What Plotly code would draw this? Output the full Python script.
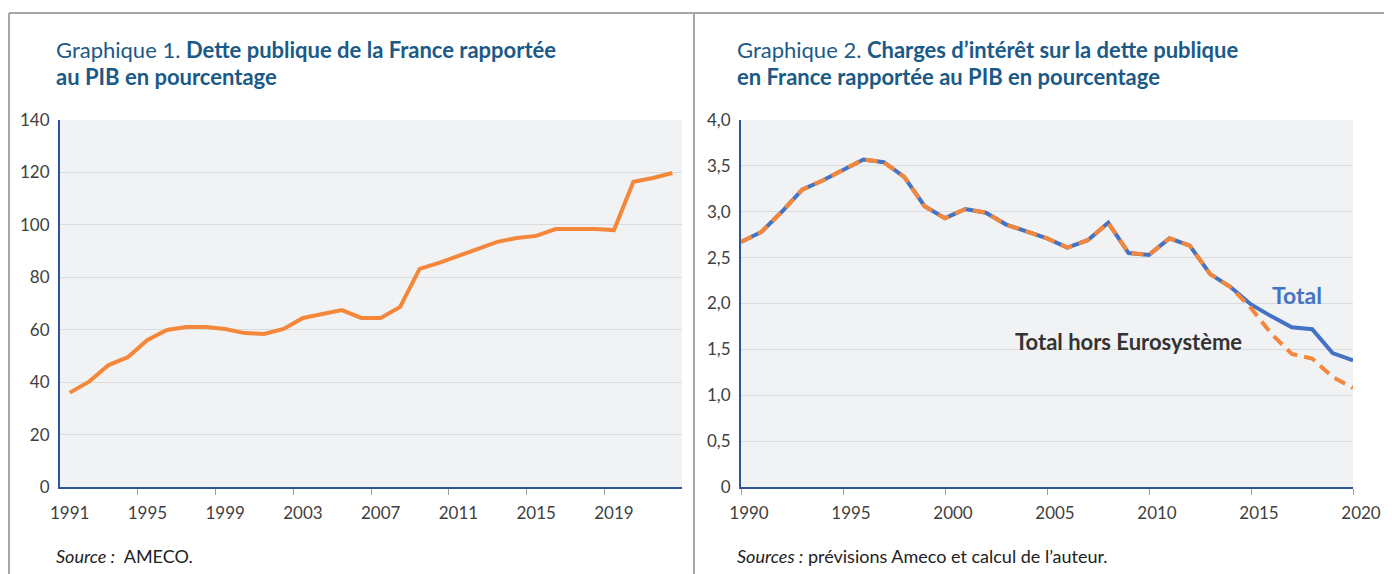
import plotly.graph_objects as go

# Graphique 1 : dette publique / PIB (%)
annees_dette = list(range(1991, 2023))
dette = [36.0, 40.2, 46.5, 49.6, 56.1, 59.9, 61.0, 61.0, 60.3, 58.7, 58.4, 60.3,
         64.5, 66.0, 67.5, 64.5, 64.5, 68.7, 83.2, 85.5, 88.1, 90.8, 93.5, 95.0,
         95.8, 98.4, 98.4, 98.4, 98.0, 116.4, 117.9, 119.8]
labels_dette = [1991, 1995, 1999, 2003, 2007, 2011, 2015, 2019]

# Graphique 2 : charges d'intérêt / PIB (%)
annees_int = list(range(1990, 2021))
total = [2.67, 2.78, 3.00, 3.24, 3.34, 3.46, 3.57, 3.54, 3.38, 3.06, 2.93, 3.03,
         2.99, 2.86, 2.79, 2.71, 2.61, 2.69, 2.88, 2.55, 2.53, 2.71, 2.63, 2.32,
         2.18, 1.99, 1.86, 1.74, 1.72, 1.46, 1.38]
hors_euro = [2.67, 2.78, 3.00, 3.24, 3.34, 3.46, 3.57, 3.54, 3.38, 3.06, 2.93, 3.03,
             2.99, 2.86, 2.79, 2.71, 2.61, 2.69, 2.88, 2.55, 2.53, 2.71, 2.63, 2.32,
             2.18, 1.95, 1.67, 1.45, 1.40, 1.20, 1.08]
labels_int = [1990, 1995, 2000, 2005, 2010, 2015, 2020]
yticks_int = [0, 0.5, 1.0, 1.5, 2.0, 2.5, 3.0, 3.5, 4.0]
yticks_int_txt = ["0", "0,5", "1,0", "1,5", "2,0", "2,5", "3,0", "3,5", "4,0"]

W, H = 1392, 574
OX, OY = 8, 8  # marge par défaut du <body> dans la page
ORANGE = "#f5873a"
BLEU = "#4472c4"
TITRE = "#1b5a86"
AXE = "#2f5597"
FOND = "#f1f2f4"
GRILLE = "#dadbdd"
TEXTE = "#404040"
FONT = "Lato"

def px_x(v):
    return (v - OX) / W

def px_y(v):
    return 1 - (v - OY) / H

fig = go.Figure()

fig.add_trace(go.Scatter(x=annees_dette, y=dette, mode="lines",
                         line=dict(color=ORANGE, width=4), xaxis="x", yaxis="y",
                         showlegend=False))
fig.add_trace(go.Scatter(x=annees_int, y=total, mode="lines",
                         line=dict(color=BLEU, width=4), xaxis="x2", yaxis="y2",
                         showlegend=False))
fig.add_trace(go.Scatter(x=annees_int, y=hors_euro, mode="lines",
                         line=dict(color=ORANGE, width=4, dash="12px,7px"),
                         xaxis="x2", yaxis="y2", showlegend=False))

ydom = [px_y(487), px_y(120)]
tickfont = dict(family=FONT, size=17, color=TEXTE)

fig.update_layout(
    width=W, height=H,
    margin=dict(l=0, r=0, t=0, b=0, pad=0),
    autosize=False,
    paper_bgcolor="white",
    plot_bgcolor=FOND,
    font=dict(family=FONT),
    xaxis=dict(domain=[px_x(60), px_x(682)], range=[1990.5, 2022.5], automargin=False,
               tickmode="array", tickvals=labels_dette,
               ticks="", ticklabelstandoff=10, tickfont=tickfont,
               showgrid=False, zeroline=False,
               showline=True, linecolor=AXE, linewidth=2,
               minor=dict(tickmode="array",
                          tickvals=[1994.5, 1998.5, 2002.5, 2006.5, 2010.5, 2014.5, 2018.5],
                          ticks="outside", ticklen=6, tickcolor="#a0a0a0", showgrid=False)),
    yaxis=dict(domain=ydom, range=[0, 140], tickmode="linear", dtick=20, automargin=False,
               ticks="", ticklabelstandoff=5, tickfont=tickfont,
               showgrid=True, gridcolor=GRILLE, gridwidth=1, zeroline=False,
               showline=True, linecolor=AXE, linewidth=2),
    xaxis2=dict(domain=[px_x(741), px_x(1353)], range=[1990, 2020], anchor="y2",
                automargin=False,
                tickmode="array", tickvals=labels_int,
                ticks="outside", ticklen=6, tickcolor="#a0a0a0",
                ticklabelstandoff=4, ticklabelshift=8, tickfont=tickfont,
                showgrid=False, zeroline=False,
                showline=True, linecolor=AXE, linewidth=2),
    yaxis2=dict(domain=ydom, range=[0, 4], anchor="x2", automargin=False,
                tickmode="array", tickvals=yticks_int, ticktext=yticks_int_txt,
                ticks="", ticklabelstandoff=5, tickfont=tickfont,
                showgrid=True, gridcolor=GRILLE, gridwidth=1, zeroline=False,
                showline=True, linecolor=AXE, linewidth=2),
)

titre_font = dict(family=FONT, size=22, color=TITRE)
titres = [
    (54, 50, "Graphique 1. <b>Dette publique de la France rapportée</b>"),
    (54, 76, "<b>au PIB en pourcentage</b>"),
    (735, 50, "Graphique 2. <b>Charges d’intérêt sur la dette publique</b>"),
    (735, 76, "<b>en France rapportée au PIB en pourcentage</b>"),
]
for x, y, txt in titres:
    fig.add_annotation(xref="paper", yref="paper", x=px_x(x), y=px_y(y),
                       xanchor="left", yanchor="middle", showarrow=False,
                       text=txt, font=titre_font)

src_font = dict(family=FONT, size=18, color="#222222")
fig.add_annotation(xref="paper", yref="paper", x=px_x(54), y=px_y(556),
                   xanchor="left", yanchor="middle", showarrow=False,
                   text="<i>Source :</i>  AMECO.", font=src_font)
fig.add_annotation(xref="paper", yref="paper", x=px_x(735), y=px_y(556),
                   xanchor="left", yanchor="middle", showarrow=False,
                   text="<i>Sources :</i> prévisions Ameco et calcul de l’auteur.", font=src_font)

fig.add_annotation(xref="paper", yref="paper", x=px_x(1297), y=px_y(295),
                   xanchor="center", yanchor="middle", showarrow=False,
                   text="<b>Total</b>", font=dict(family=FONT, size=23, color=BLEU))
fig.add_annotation(xref="paper", yref="paper", x=px_x(1128), y=px_y(341),
                   xanchor="center", yanchor="middle", showarrow=False,
                   text="<b>Total hors Eurosystème</b>", font=dict(family=FONT, size=22, color="#333333"))

cadre = dict(color="#a6a6a6", width=2)
for x0, y0, x1, y1 in [(9, 13, 1385, 13), (9, 13, 9, 590), (694, 13, 694, 590), (1385, 13, 1385, 590)]:
    fig.add_shape(type="line", xref="paper", yref="paper",
                  x0=px_x(x0), y0=px_y(y0), x1=px_x(x1), y1=px_y(y1), line=cadre)

fig.write_html("out.html")
